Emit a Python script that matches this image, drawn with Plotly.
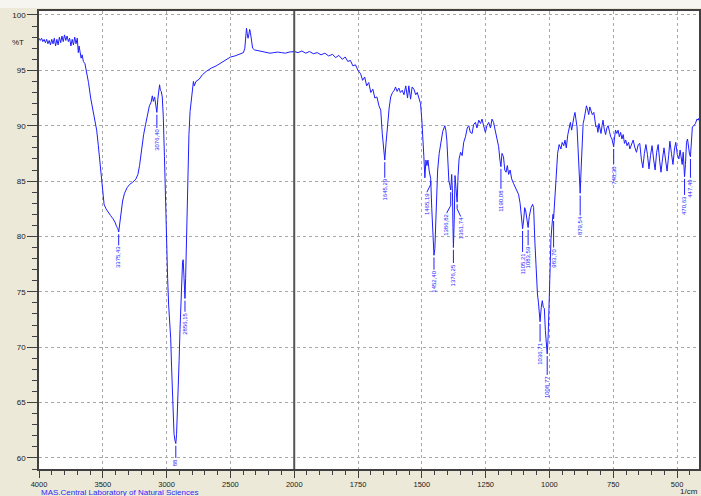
import plotly.graph_objects as go

# IR spectrum: wavenumber (1/cm) and transmittance (%T)
wavenumber = [
    4000, 3990, 3980, 3970, 3960, 3950, 3940, 3930, 3920, 3910, 3900, 3890, 3880, 3870, 3860,
    3850, 3840, 3830, 3820, 3810, 3800, 3790, 3780, 3770, 3760, 3750, 3740, 3730, 3720, 3710,
    3700, 3692, 3686, 3678, 3670, 3662, 3652, 3640, 3628, 3612, 3595, 3578, 3560, 3548, 3535,
    3522, 3510, 3500, 3490, 3475, 3460, 3440, 3420, 3405, 3392, 3382, 3375.43, 3368, 3358, 3345,
    3330, 3310, 3290, 3265, 3240, 3225, 3212, 3198, 3180, 3165, 3150, 3135, 3122, 3112, 3104,
    3094, 3084, 3076.40, 3069, 3061, 3055, 3049, 3042, 3034, 3026, 3017, 3008, 3000, 2992, 2984,
    2976, 2968, 2961, 2955, 2949, 2942, 2935, 2928, 2922, 2916, 2909, 2902, 2895, 2888, 2881,
    2875, 2870, 2865, 2860, 2856.15, 2851, 2846, 2840, 2833, 2825, 2816, 2806, 2797, 2790, 2783,
    2770, 2745, 2720, 2690, 2650, 2612, 2570, 2534, 2500, 2465, 2425, 2398, 2387, 2380, 2374,
    2368, 2362, 2356, 2349, 2343, 2336, 2326, 2312, 2290, 2270, 2250, 2220, 2190, 2160, 2130,
    2100, 2070, 2040, 2020, 2000, 1985, 1970, 1955, 1940, 1925, 1910, 1895, 1880, 1865, 1850,
    1838, 1825, 1812, 1800, 1790, 1780, 1770, 1760, 1750, 1740, 1732, 1724, 1716, 1708, 1700,
    1692, 1684, 1676, 1668, 1661, 1655, 1650, 1645.29, 1640, 1635, 1628, 1622, 1615, 1608, 1603,
    1597, 1590, 1584, 1577, 1570, 1563, 1556, 1551, 1544, 1538, 1531, 1524, 1518, 1512, 1505,
    1500, 1496, 1492, 1488, 1484, 1480, 1476, 1471, 1465.19, 1461, 1457, 1454, 1452.40, 1449, 1446,
    1442, 1438, 1432, 1425, 1418, 1410, 1406, 1402, 1398, 1394, 1390, 1386.82, 1383, 1380, 1378,
    1376.25, 1373, 1370, 1366, 1363, 1361.74, 1358, 1354, 1348, 1342, 1336, 1329, 1322, 1316, 1310,
    1303, 1297, 1290, 1284, 1277, 1270, 1264, 1258, 1251, 1245, 1238, 1231, 1225, 1219, 1212,
    1205, 1199, 1194, 1190.08, 1186, 1180, 1175, 1170, 1165, 1160, 1154, 1148, 1141, 1135, 1128,
    1121, 1115, 1110, 1105.21, 1101, 1097, 1093, 1089, 1083.59, 1079, 1072, 1066, 1062, 1057, 1052,
    1047, 1043, 1040, 1036.71, 1032, 1028, 1024, 1020, 1016, 1012, 1008.77, 1005, 1002, 998, 994,
    989, 986, 983.70, 980, 975, 968, 962, 955, 950, 944, 939, 934, 928, 922, 918,
    913, 908, 904, 900, 896, 892, 888, 884, 879.54, 876, 872, 868, 864, 860, 855,
    850, 846, 842, 838, 832, 826, 822, 818, 814, 810, 806, 802, 798, 794, 790,
    786, 780, 775, 770, 765, 760, 755, 751, 748.30, 745, 741, 736, 731, 726, 721,
    716, 711, 706, 701, 696, 690, 685, 678, 672, 665, 659, 652, 646, 640, 634,
    628, 622, 616, 610, 604, 598, 592, 586, 580, 574, 568, 563, 557, 551, 545,
    539, 533, 528, 522, 516, 510, 505, 499, 493, 488, 484, 480, 476, 473, 470.63,
    467, 463, 459, 455, 451, 447.49, 444, 440, 434, 428, 422, 417, 414,
]
transmittance = [
    97.9, 97.7, 97.9, 97.6, 97.8, 97.5, 97.8, 97.4, 97.7, 97.3, 97.8, 97.4, 97.9, 97.2, 97.8,
    97.3, 98.0, 97.5, 98.1, 97.6, 98.2, 97.7, 98.1, 97.6, 97.9, 97.2, 97.8, 97.3, 98.0, 97.4,
    97.9, 96.6, 97.2, 96.4, 96.1, 96.4, 95.8, 95.6, 95.0, 93.9, 92.5, 91.3, 90.2, 89.6, 88.2,
    86.5, 84.8, 83.6, 82.9, 82.5, 82.2, 81.9, 81.6, 81.3, 80.9, 80.7, 80.4, 81.2, 82.3, 83.2,
    83.9, 84.4, 84.7, 84.9, 85.2, 85.6, 86.4, 87.8, 89.2, 90.1, 91.0, 91.8, 92.1, 92.7, 92.2,
    92.6, 91.8, 91.2, 92.4, 93.0, 93.7, 93.2, 93.1, 92.6, 90.8, 87.2, 82.5, 79.0, 76.2, 73.8,
    72.4, 70.8, 68.2, 65.8, 63.6, 62.2, 61.6, 61.3, 62.1, 63.8, 66.0, 68.8, 71.6, 74.2, 76.4,
    77.7, 77.9, 76.2, 75.0, 74.4, 76.2, 78.9, 82.6, 86.2, 89.2, 91.3, 92.6, 93.3, 94.0, 93.6,
    94.0, 94.2, 94.6, 94.9, 95.2, 95.4, 95.7, 95.95, 96.2, 96.3, 96.45, 96.6, 97.0, 98.3, 98.8,
    98.3, 97.9, 98.2, 98.7, 98.4, 97.6, 97.0, 96.85, 96.8, 96.7, 96.65, 96.6, 96.55, 96.6, 96.65,
    96.6, 96.55, 96.65, 96.7, 96.7, 96.6, 96.75, 96.55, 96.7, 96.5, 96.6, 96.4, 96.55, 96.3, 96.45,
    96.15, 96.35, 96.0, 96.2, 95.8, 95.9, 95.4, 95.5, 95.0, 94.7, 94.1, 94.4, 93.6, 93.9, 93.0,
    93.3, 92.5, 92.6, 91.8, 91.4, 89.3, 87.8, 86.9, 88.5, 89.9, 91.6, 92.6, 93.0, 93.2, 93.5,
    93.1, 93.4, 93.0, 93.2, 92.8, 93.6, 92.5, 93.6, 92.4, 93.5, 93.3, 92.8, 93.0, 92.5, 92.0,
    90.5, 88.2, 87.2, 85.3, 86.9, 86.4, 86.9, 85.9, 85.2, 82.5, 80.2, 78.9, 78.3, 78.9, 80.5,
    83.5, 86.0, 87.5, 88.7, 89.5, 90.0, 89.6, 88.7, 86.5, 85.0, 84.6, 84.2, 85.6, 84.0, 80.8,
    79.0, 81.5, 85.5, 84.3, 83.4, 83.1, 85.5, 87.0, 87.6, 87.3, 88.5, 89.0, 89.8, 90.0, 89.4,
    89.3, 90.1, 90.3, 89.8, 90.5, 90.2, 90.6, 90.0, 89.4, 90.0, 90.3, 89.8, 90.6, 90.3, 89.6,
    88.8, 88.1, 86.9, 86.3, 87.5, 87.2, 86.0, 85.8, 86.4, 85.6, 86.0, 85.2, 84.8, 84.5, 84.0,
    83.8, 83.0, 82.0, 80.7, 81.5, 82.6, 82.3, 81.5, 80.8, 81.8, 82.6, 82.9, 82.6, 79.5, 76.5,
    74.8, 74.0, 73.0, 72.3, 73.6, 74.2, 73.6, 73.5, 71.5, 70.2, 69.4, 71.0, 74.0, 77.5, 79.8,
    81.3, 82.0, 81.6, 83.0, 85.5, 87.5, 88.3, 87.9, 88.5, 88.2, 88.7, 88.0, 89.2, 90.0, 90.3,
    89.6, 90.4, 90.8, 91.2, 90.6, 89.9, 88.0, 85.5, 83.9, 86.0, 88.5, 90.2, 90.6, 91.3, 91.8,
    91.4, 91.0, 91.7, 91.4, 91.0, 91.2, 90.6, 89.9, 90.0, 89.4, 90.2, 89.6, 89.3, 90.0, 90.5,
    89.8, 89.2, 89.8, 90.0, 89.5, 89.0, 88.8, 88.4, 88.1, 88.9, 89.6, 89.3, 89.6, 89.0, 89.4,
    88.8, 89.2, 88.4, 88.7, 88.2, 88.5, 87.9, 88.3, 88.7, 88.0, 87.6, 88.3, 88.4, 87.0, 86.2,
    87.5, 88.3, 87.4, 86.1, 87.3, 88.2, 87.0, 86.0, 87.6, 88.3, 86.8, 85.8, 87.0, 88.0, 86.9,
    85.9, 87.3, 88.6, 87.5, 86.5, 87.9, 88.5, 87.4, 87.0, 87.8, 87.2, 86.5, 87.6, 86.2, 85.4,
    86.5, 88.5, 88.8, 88.0, 87.4, 87.2, 88.5, 89.9, 90.0, 90.2, 90.6, 90.5, 90.7,
]

# Peak annotations
peak_wavenumber = [3375.43, 3076.40, 2928, 2856.15, 1645.29, 1465.19, 1452.40, 1386.82, 1376.25,
                   1361.74, 1190.08, 1105.21, 1083.59, 1036.71, 1008.77, 983.70, 879.54, 748.30,
                   470.63, 447.49]
peak_label = ["3375,43", "3076,40", "88", "2856,15", "1645,29", "1465,19", "1452,40", "1386,82",
              "1376,25", "1361,74", "1190,08", "1105,21", "1083,59", "1036,71", "1008,77", "983,70",
              "879,54", "748,30", "470,63", "447,49"]

x_tick_labels = [4000, 3500, 3000, 2500, 2000, 1750, 1500, 1250, 1000, 750, 500]

# label placement (layout only): top of the rotated text in %T, horizontal offset in axis units
label_top = [79.2, 89.8, 60.0, 73.2, 85.3, 84.0, 77.0, 82.1, 77.6, 81.8, 84.3, 78.6, 79.2,
             70.5, 67.5, 79.0, 81.9, 86.5, 83.75, 85.3]
label_shift = [0, 0, 0, 0, 0, -15, 0, -16, 0, 14, 0, 0, 0, 0, 0, 0, 0, 0, 0, 0]


def axis_pos(w):
    """Split wavenumber scale: 4000-2000 compressed 2x, 2000-400 expanded."""
    return (4000 - w) / 2.0 if w >= 2000 else 1000 + (2000 - w)


BLUE = "#1e1eff"
FONT = "Liberation Sans, Arial"
xs = [axis_pos(w) for w in wavenumber]

fig = go.Figure()
fig.add_trace(go.Scatter(x=xs, y=transmittance, mode="lines",
                         line=dict(color=BLUE, width=1), hoverinfo="skip"))

# leader lines from each labelled band down to its label
lx, ly = [], []
for w, top, sh in zip(peak_wavenumber, label_top, label_shift):
    t_peak = transmittance[wavenumber.index(w)]
    xp = axis_pos(w)
    if sh == 0:
        lx += [xp, xp, None]
        ly += [t_peak - 0.2, top, None]
    else:
        lx += [xp, xp, xp + sh, None]
        ly += [t_peak - 0.2, top + 0.7, top, None]
fig.add_trace(go.Scatter(x=lx, y=ly, mode="lines", line=dict(color=BLUE, width=1),
                         hoverinfo="skip", cliponaxis=True))

annotations = []
for w, txt, top, sh in zip(peak_wavenumber, peak_label, label_top, label_shift):
    annotations.append(dict(x=axis_pos(w) + sh, y=top, xref="x", yref="y", text=txt,
                            textangle=-90, showarrow=False, xanchor="center", yanchor="top",
                            borderpad=0, font=dict(size=6, color=BLUE, family=FONT)))

annotations += [
    dict(x=-21 / 662, y=97.5, xref="paper", yref="y", text="%T", showarrow=False,
         xanchor="center", yanchor="middle", font=dict(size=8, color="#202020", family=FONT)),
    dict(x=0.0, y=-23 / 458, xref="paper", yref="paper",
         text="MAS.Central Laboratory of Natural Sciences", showarrow=False,
         xanchor="left", yanchor="middle", font=dict(size=8, color="#2a2aff", family=FONT)),
    dict(x=1.0, y=-22 / 458, xref="paper", yref="paper", text="1/cm",
         showarrow=False, xanchor="right", yanchor="middle", borderpad=0,
         font=dict(size=8, color="#202020", family=FONT)),
]

shapes = [
    # light strip along the top edge of the window
    dict(type="rect", xref="paper", yref="paper", x0=-0.1, x1=1.1,
         y0=1 + 3 / 458, y1=1 + 12 / 458, fillcolor="#f6f5f0", line=dict(width=0),
         layer="below"),
    # solid divider where the wavenumber scale changes
    dict(type="line", xref="x", yref="paper", x0=axis_pos(2000), x1=axis_pos(2000),
         y0=0, y1=1, line=dict(color="#555555", width=2)),
]

fig.update_layout(
    width=701, height=496,
    margin=dict(l=39, r=0, t=11, b=27),
    paper_bgcolor="#ece9d8", plot_bgcolor="white",
    showlegend=False,
    annotations=annotations, shapes=shapes,
    xaxis=dict(
        range=[0, axis_pos(414)],
        tickmode="array",
        tickvals=[axis_pos(w) for w in x_tick_labels],
        ticktext=[str(w) for w in x_tick_labels],
        ticks="outside", ticklen=7, tickcolor="#404040", tickwidth=1,
        tickfont=dict(size=7.5, color="#202020", family=FONT),
        showgrid=True, gridcolor="#a8a8a8", griddash="dot", gridwidth=1,
        showline=True, linecolor="#404040", linewidth=1.5, mirror=True,
        zeroline=False,
        minor=dict(tickmode="linear", tick0=0, dtick=50, ticks="outside", ticklen=4,
                   tickcolor="#404040", showgrid=False),
    ),
    yaxis=dict(
        range=[59.0, 100.36],
        tickmode="linear", tick0=60, dtick=5,
        ticks="outside", ticklen=10, tickcolor="#404040", tickwidth=1,
        tickfont=dict(size=8, color="#202020", family=FONT),
        showgrid=True, gridcolor="#a8a8a8", griddash="dot", gridwidth=1,
        showline=True, linecolor="#404040", linewidth=1.5, mirror=True,
        zeroline=False,
        minor=dict(tickmode="linear", tick0=60, dtick=1, ticks="outside", ticklen=5,
                   tickcolor="#404040", showgrid=False),
    ),
)

fig.write_html("out.html")
